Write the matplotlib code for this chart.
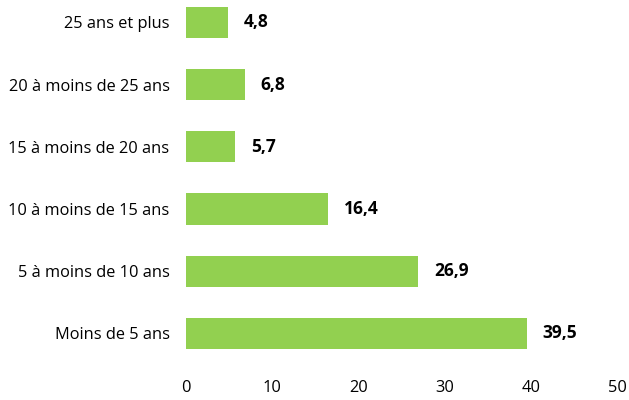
"""horizontal bar chart: age groups"""
import matplotlib
matplotlib.use("Agg")
import matplotlib.pyplot as plt

categories = ["Moins de 5 ans", "5 à moins de 10 ans", "10 à moins de 15 ans",
              "15 à moins de 20 ans", "20 à moins de 25 ans", "25 ans et plus"]
values = [39.5, 26.9, 16.4, 5.7, 6.8, 4.8]
xticks = [0, 10, 20, 30, 40, 50]

plt.rcParams['font.family'] = ['Open Sans', 'DejaVu Sans']

fig = plt.figure(figsize=(6.29, 4.0), dpi=100)
ax = fig.add_axes([0.296, 0.0885, 0.685, 0.9115])

pos = list(range(len(categories)))
ax.barh(pos, values, height=0.5, color="#92D050")

for y, v in zip(pos, values):
    ax.text(v + 1.85, y, f"{v:.1f}".replace(".", ","), va="center", ha="left",
            fontsize=12.5, fontweight="bold", color="black")

ax.set_xlim(0, 50)
ax.set_ylim(-0.5, 5.36)
ax.set_xticks(xticks)
ax.set_yticks(pos)
ax.set_yticklabels(categories)
ax.tick_params(axis="both", length=0, labelsize=11.8)
ax.tick_params(axis="y", pad=12)
ax.tick_params(axis="x", pad=11)
for s in ax.spines.values():
    s.set_visible(False)

fig.savefig("out.png", dpi=100)
